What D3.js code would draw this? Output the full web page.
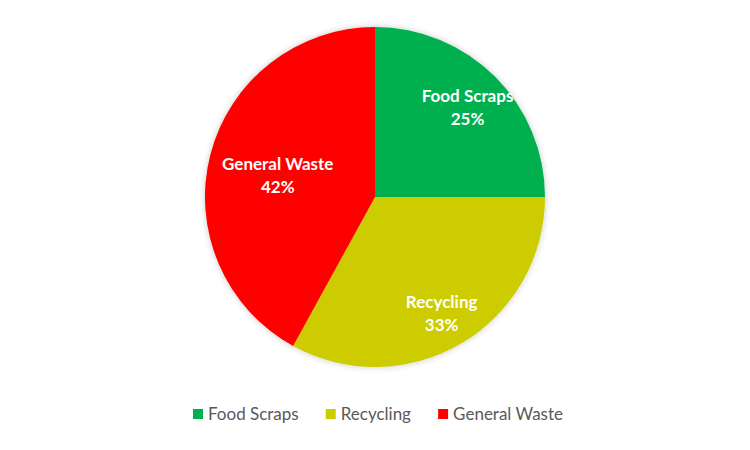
<!DOCTYPE html>
<html><head><meta charset="utf-8">
<script src="https://cdn.jsdelivr.net/npm/d3@7"></script>
<style>body{margin:0;background:#fff}svg{display:block}</style>
</head><body>
<script>
const categories = ["Food Scraps", "Recycling", "General Waste"];
const values = [25, 33, 42];
const colors = ["#00B050", "#CCCC00", "#FF0000"];

const W = 750, H = 450;
const cx = 375, cy = 197, R = 170;
const font = "Lato, 'Open Sans', sans-serif";

const svg = d3.select("body").append("svg").attr("width", W).attr("height", H);
const defs = svg.append("defs");
const f = defs.append("filter").attr("id","sh").attr("x","-20%").attr("y","-20%").attr("width","140%").attr("height","140%");
f.append("feDropShadow").attr("dx",0).attr("dy",0).attr("stdDeviation",3).attr("flood-color","#000").attr("flood-opacity",0.22);

const data = categories.map((c,i)=>({cat:c, value:values[i], color:colors[i]}));
const pie = d3.pie().sort(null).value(d=>d.value);
const arcs = pie(data);
const arc = d3.arc().innerRadius(0).outerRadius(R);
const total = d3.sum(values);

const g = svg.append("g").attr("transform",`translate(${cx},${cy})`);
g.append("g").attr("filter","url(#sh)").selectAll("path").data(arcs).join("path")
  .attr("d", arc).attr("fill", d=>d.data.color);

const lbl = g.selectAll("text.lbl").data(arcs).join("text").attr("class","lbl")
  .attr("text-anchor","middle").attr("fill","#fff")
  .style("font-family", font).style("font-weight","bold").style("font-size","17px");
lbl.append("tspan").attr("x",0).attr("y",-2).text(d=>d.data.cat);
lbl.append("tspan").attr("x",0).attr("y",21).text(d=>Math.round(d.data.value/total*100)+"%");

// place labels: start at 0.76R along the bisector, move inward until inside horizontal margins
const margin = 17;
lbl.each(function(d){
  const a = (d.startAngle + d.endAngle)/2;
  const hw = this.getBBox().width/2;
  let r = R*0.77;
  const pos = rr => [Math.sin(a)*rr, -Math.cos(a)*rr];
  while (r > 0) {
    const [x] = pos(r);
    if (x - hw >= -R + margin && x + hw <= R - margin) break;
    r -= 0.5;
  }
  const [x,y] = pos(r);
  d3.select(this).attr("transform",`translate(${x},${y})`);
});

// legend
const legend = svg.append("g");
const items = legend.selectAll("g").data(data).join("g");
items.append("rect").attr("width",10).attr("height",10).attr("y",-11).attr("fill",d=>d.color);
items.append("text").attr("x",15).attr("y",0).attr("fill","#595959")
  .style("font-family", font).style("font-size","17px").text(d=>d.cat);
let x = 0; const gap = 27;
const positions = [];
items.each(function(){ positions.push(x); x += this.getBBox().width + gap; });
const totalW = x - gap;
items.attr("transform",(d,i)=>`translate(${positions[i]},0)`);
legend.attr("transform",`translate(${(W-totalW)/2 + 3},420)`);
</script>
</body></html>
